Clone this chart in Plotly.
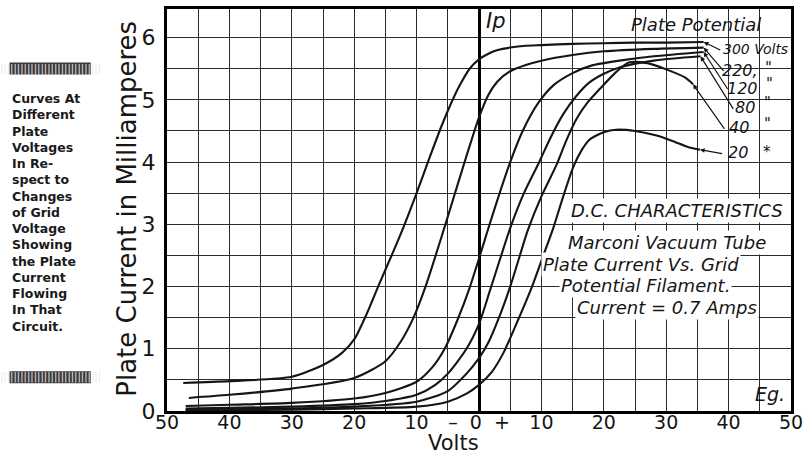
import plotly.graph_objects as go

# ---------------- data ----------------
plate_potentials = ["300 Volts", "220", "120", "80", "40", "20"]

grid_v_300 = [-47.4, -40, -30, -25, -22, -20, -18, -16, -14, -12, -10, -8, -6, -4, -3, -1.5, 0, 1.5, 3, 5, 7.5, 10, 15, 20, 25, 30, 36]
plate_i_300 = [0.45, 0.48, 0.55, 0.74, 0.93, 1.15, 1.56, 2.04, 2.5, 2.98, 3.5, 4.05, 4.58, 5.05, 5.25, 5.5, 5.65, 5.74, 5.8, 5.84, 5.87, 5.88, 5.90, 5.91, 5.92, 5.92, 5.93]

grid_v_220 = [-46.5, -40, -30, -20, -15, -12.5, -10.5, -8.5, -6, -4, -2, 0, 1.5, 3, 5, 7.5, 10, 15, 20, 28, 36]
plate_i_220 = [0.21, 0.26, 0.36, 0.53, 0.8, 1.12, 1.5, 2.02, 2.8, 3.45, 4.1, 4.72, 5.08, 5.3, 5.46, 5.56, 5.63, 5.72, 5.78, 5.82, 5.84]

grid_v_120 = [-47, -40, -30, -20, -15, -10, -7.5, -5.5, -3.5, -1.5, 0, 1.7, 3.3, 5, 7, 9.5, 12, 15, 18, 22.5, 28, 36]
plate_i_120 = [0.08, 0.1, 0.13, 0.2, 0.29, 0.47, 0.7, 1.0, 1.45, 1.98, 2.45, 3.0, 3.5, 4.0, 4.5, 4.95, 5.24, 5.43, 5.55, 5.63, 5.7, 5.77]

grid_v_80 = [-47, -40, -30, -20, -15, -10, -7, -5, -2, 0, 1.8, 3.4, 5, 7.2, 9.5, 11.5, 13.5, 15.5, 17.7, 20, 22.5, 28, 35.5]
plate_i_80 = [0.04, 0.05, 0.07, 0.11, 0.16, 0.26, 0.42, 0.6, 1.0, 1.4, 1.95, 2.45, 2.94, 3.5, 3.97, 4.4, 4.77, 5.05, 5.28, 5.42, 5.52, 5.63, 5.70]

grid_v_40 = [-47, -40, -30, -20, -10, -5, -2, 0, 1.5, 3.2, 5.0, 6.4, 7.8, 10, 12.4, 14, 15.6, 17.5, 19.3, 22, 24, 27, 30, 33, 34.3]
plate_i_40 = [0.02, 0.03, 0.04, 0.07, 0.15, 0.32, 0.6, 0.85, 1.1, 1.5, 2.0, 2.45, 2.9, 3.45, 3.95, 4.35, 4.69, 4.97, 5.17, 5.45, 5.6, 5.59, 5.49, 5.36, 5.25]

grid_v_20 = [-47, -40, -30, -20, -10, -5, -2, 0, 2, 4, 6.2, 8.5, 10.2, 11.9, 13.5, 15.1, 16.5, 17.7, 20, 22, 25, 28.3, 31, 33.6, 35.4]
plate_i_20 = [0.01, 0.015, 0.02, 0.04, 0.07, 0.15, 0.28, 0.42, 0.62, 0.95, 1.45, 2.0, 2.47, 2.94, 3.45, 3.92, 4.2, 4.36, 4.48, 4.52, 4.5, 4.43, 4.34, 4.24, 4.2]

x_tick_vals = [-50, -40, -30, -20, -10, 0, 10, 20, 30, 40, 50]
x_tick_text = ["50", "40", "30", "20", "10", "\u2013  0  +", "10", "20", "30", "40", "50"]
y_tick_vals = [0, 1, 2, 3, 4, 5, 6]
y_tick_text = ["0", "1", "2", "3", "4", "5", "6"]

sidebar_lines = ["Curves At", "Different", "Plate", "Voltages", "In Re-", "spect to",
                 "Changes", "of Grid", "Voltage", "Showing", "the Plate", "Current",
                 "Flowing", "In That", "Circuit."]
caption_lines = ["D.C. CHARACTERISTICS", "Marconi Vacuum Tube", "Plate Current Vs. Grid",
                 "Potential Filament.", "Current = 0.7 Amps"]

curves = [
    (grid_v_300, plate_i_300),
    (grid_v_220, plate_i_220),
    (grid_v_120, plate_i_120),
    (grid_v_80, plate_i_80),
    (grid_v_40, plate_i_40),
    (grid_v_20, plate_i_20),
]

# ---------------- figure ----------------
fig = go.Figure()
ink = "#151515"
for (vx, iy), name in zip(curves, plate_potentials):
    fig.add_trace(go.Scatter(x=vx, y=iy, mode="lines", name=name,
                             line=dict(color=ink, width=2.1, shape="spline", smoothing=0.7),
                             hoverinfo="skip"))

hand = "DejaVu Sans"
grid_col = "#2b2b2b"

fig.update_layout(
    width=809, height=458,
    margin=dict(l=167, r=12, t=6, b=47),
    paper_bgcolor="white", plot_bgcolor="white",
    showlegend=False,
    font=dict(family="DejaVu Sans", color=ink),
)
fig.update_xaxes(
    range=[-50, 50], tickvals=x_tick_vals, ticktext=x_tick_text,
    showgrid=True, gridcolor=grid_col, gridwidth=1.3,
    minor=dict(dtick=5, showgrid=True, gridcolor=grid_col, gridwidth=1.3),
    zeroline=True, zerolinecolor="#000", zerolinewidth=2.6,
    showline=True, linecolor="#000", linewidth=3, mirror=True,
    ticks="", ticklen=0, tickfont=dict(size=19, color=ink), ticklabelstandoff=-8,
    ticklabeloverflow="allow",
)
fig.update_yaxes(
    range=[0, 6.46], tickvals=y_tick_vals, ticktext=y_tick_text,
    showgrid=True, gridcolor=grid_col, gridwidth=1.3,
    minor=dict(dtick=0.5, showgrid=True, gridcolor=grid_col, gridwidth=1.3),
    zeroline=False,
    showline=True, linecolor="#000", linewidth=3, mirror=True,
    ticks="", ticklen=0, tickfont=dict(size=22, color=ink), ticklabelstandoff=4,
)

ann = []
# axis titles
ann.append(dict(xref="paper", yref="paper", x=-0.0635, y=0.504, text="Plate Current in Milliamperes",
                textangle=-90, showarrow=False, font=dict(size=26, family="DejaVu Sans", color=ink),
                xanchor="center", yanchor="middle"))
ann.append(dict(xref="paper", yref="paper", x=0.459, y=-0.1150, text="Volts", showarrow=False,
                font=dict(size=21, family="DejaVu Sans", color=ink), xanchor="center", yanchor="bottom"))

# small hand-lettered labels
ann.append(dict(xref="x", yref="y", x=0.8, y=6.27, text="<i>Ip</i>", showarrow=False,
                font=dict(size=21, family=hand, color=ink), xanchor="left", yanchor="middle"))
ann.append(dict(xref="x", yref="y", x=46.7, y=0.27, text="<i>Eg.</i>", showarrow=False,
                font=dict(size=19, family=hand, color=ink), xanchor="center", yanchor="middle"))
ann.append(dict(xref="x", yref="y", x=34.8, y=6.21, text="<i>Plate Potential</i>", showarrow=False,
                font=dict(size=18, family=hand, color=ink), xanchor="center", yanchor="middle"))

# plate potential labels with leader arrows
label_pos = [(44.3, 5.81), (41.9, 5.47), (42.2, 5.19), (42.7, 4.88), (41.7, 4.56), (41.5, 4.16)]
label_text = ["<i>300 Volts</i>", "<i>220,</i>", "<i>120</i>", "<i>80</i>", "<i>40</i>", "<i>20</i>"]
label_size = [14, 16, 16, 16, 16, 16]
ditto_pos = [None, (46.4, 5.52), (46.6, 5.25), (46.3, 4.95), (46.3, 4.62), (46.1, 4.16)]
ditto_text = [None, "<i>\"</i>", "<i>\"</i>", "<i>\"</i>", "<i>\"</i>", "<i>*</i>"]
tails = [(38.9, 5.79), (39.4, 5.44), (40.0, 5.15), (40.9, 4.83), (39.5, 4.51), (39.2, 4.13)]
for k, ((lx, ly), t, s, (tx, ty), (vx, iy)) in enumerate(zip(label_pos, label_text, label_size, tails, curves)):
    ann.append(dict(xref="x", yref="y", x=lx, y=ly, text=t, showarrow=False,
                    font=dict(size=s, family=hand, color=ink), xanchor="center", yanchor="middle"))
    if ditto_pos[k] is not None:
        ann.append(dict(xref="x", yref="y", x=ditto_pos[k][0], y=ditto_pos[k][1], text=ditto_text[k],
                        showarrow=False, font=dict(size=15, family=hand, color=ink),
                        xanchor="center", yanchor="middle"))
    ann.append(dict(xref="x", yref="y", x=vx[-1], y=iy[-1], axref="x", ayref="y", ax=tx, ay=ty,
                    text="", showarrow=True, arrowhead=2, arrowsize=0.8, arrowwidth=1.2,
                    arrowcolor=ink))

# caption block
cap_pos = [(31.8, 3.22), (30.2, 2.71), (25.9, 2.36), (26.7, 2.01), (30.1, 1.67)]
for (cx, cy), t in zip(cap_pos, caption_lines):
    ann.append(dict(xref="x", yref="y", x=cx, y=cy, text="<i>" + t + "</i>", showarrow=False,
                    font=dict(size=18, family=hand, color=ink), xanchor="center", yanchor="middle",
                    bgcolor="white", borderpad=1))

# sidebar
ann.append(dict(xref="paper", yref="paper", x=-0.2524, y=0.4938,
                text="<br>".join("<b>" + s + "</b>" for s in sidebar_lines),
                showarrow=False, align="left", xanchor="left", yanchor="middle",
                font=dict(size=12.5, family="DejaVu Sans", color="#1a1a1a")))

shapes = []
for yc in [66, 377]:
    y0 = (411 - yc - 6) / 405
    y1 = (411 - yc + 6) / 405
    shapes.append(dict(type="rect", xref="paper", yref="paper", x0=(8 - 167) / 630, x1=(90 - 167) / 630,
                       y0=y0, y1=y1, fillcolor="#3a3a3a", line=dict(width=0), layer="above"))
    ann.append(dict(xref="paper", yref="paper", x=(49 - 167) / 630, y=(411 - yc) / 405,
                    text="|" * 30, showarrow=False, xanchor="center", yanchor="middle",
                    font=dict(size=10, family="DejaVu Sans", color="#e8e8e8")))

fig.update_layout(annotations=ann, shapes=shapes)
fig.write_html("out.html", config={"displayModeBar": False},
               post_script="document.body.style.margin='0px';")
